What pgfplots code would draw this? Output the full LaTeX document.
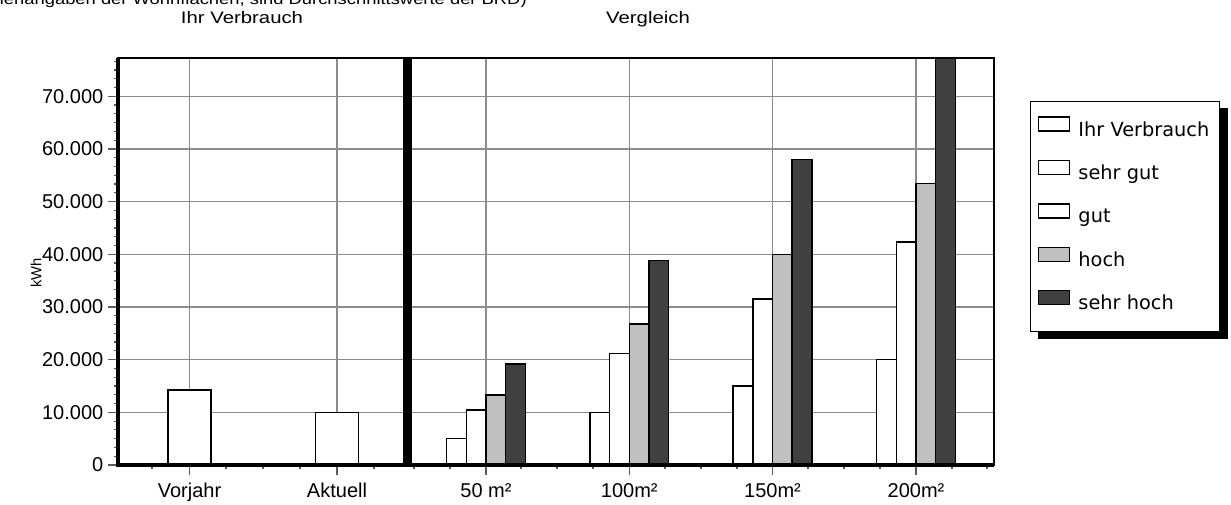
\documentclass[border=0pt]{standalone}
\usepackage{fontspec}
\usepackage{graphicx}
\setmainfont{Liberation Sans}
\newfontfamily\legfont{DejaVu Sans}
\usepackage{pgfplots}
\pgfplotsset{compat=1.18}
\pgfdeclarelayer{background}
\pgfsetlayers{background,main}

\definecolor{gridgray}{RGB}{140,140,140}
\definecolor{tickgray}{RGB}{90,90,90}
\definecolor{hochfill}{RGB}{192,192,192}
\definecolor{shfill}{RGB}{64,64,64}

\begin{document}
\begin{tikzpicture}
% 1 px of the reference = 0.75pt
\useasboundingbox (0,0) rectangle (923.25pt,378pt);

\node[anchor=base east,inner sep=0pt,font=\fontsize{11.3}{13}\selectfont]
  at (395.25pt,374.25pt) {\scalebox{1.22}[1]{(Flächenangaben der Wohnflächen, sind Durchschnittswerte der BRD)}};
\node[anchor=base,inner sep=0pt,font=\fontsize{12.5}{15}\selectfont]
  at (181.5pt,360pt) {\scalebox{1.22}[1]{Ihr Verbrauch}};
\node[anchor=base,inner sep=0pt,font=\fontsize{12.5}{15}\selectfont]
  at (486pt,360pt) {\scalebox{1.22}[1]{Vergleich}};

\begin{axis}[
    at={(88.5pt,29.25pt)}, anchor=south west,
    scale only axis,
    width=657pt, height=305pt,
    xmin=118, xmax=994,
    ymin=0, ymax=77200,
    clip=false,
    xtick={189.5,337,486,629.3,772.5,916},
    xticklabels={Vorjahr,Aktuell,50 m²,100m²,150m²,200m²},
    minor xtick={152,226,263,300,374,414,450,521,557,593,665,701,737,808,844,880,952,987},
    ytick={0,10000,...,70000},
    minor ytick={0,1666.667,...,77000},
    tick pos=left,
    tick align=outside,
    major tick length=7.5pt,
    minor tick length=3pt,
    tick style={tickgray,line width=0.9pt},
    xmajorgrids, ymajorgrids,
    grid style={gridgray,line width=1pt},
    axis line style={line width=1.3pt},
    scaled y ticks=false,
    yticklabel style={/pgf/number format/.cd,fixed,1000 sep={.}},
    xticklabel style={yshift=-2.5pt},
    /pgf/number format/assume math mode=true,
    tick label style={font=\fontsize{15}{18}\selectfont},
    ylabel={kWh},
    ylabel style={font=\fontsize{11}{13}\selectfont,
        at={(axis description cs:-0.0936,0.472)},anchor=center},
    legend image code/.code={\draw[#1] (0pt,0pt) rectangle (23pt,10.5pt);},
    legend style={
        name=leg,
        at={(1.0411,0.895)}, anchor=north west,
        draw=black, line width=1pt, fill=white,
        font=\legfont\fontsize{14.5}{17}\selectfont,
        inner xsep=5.5pt, inner ysep=11pt,
        column sep=4.25pt, row sep=12.25pt,
        nodes={inner xsep=2pt,inner ysep=2pt,text height=11pt,text depth=3.5pt},
    },
    legend cell align=left,
]

% Ihr Verbrauch
\addplot[ybar,bar width=43,bar shift=0pt,draw=black,fill=white,line width=1.1pt]
  coordinates {(189.5,14200) (337,10000)};
\addlegendentry{Ihr Verbrauch}

% sehr gut
\addplot[ybar,bar width=19.7,bar shift=0pt,draw=black,fill=white,line width=1.1pt]
  coordinates {(456.5,5000) (599.8,10000) (743,15000) (886.5,20000)};
\addlegendentry{sehr gut}

% gut
\addplot[ybar,bar width=19.7,bar shift=0pt,draw=black,fill=white,line width=1.1pt]
  coordinates {(476.2,10400) (619.5,21200) (762.7,31500) (906.2,42300)};
\addlegendentry{gut}

% hoch
\addplot[ybar,bar width=19.7,bar shift=0pt,draw=black,fill=hochfill,line width=1.1pt]
  coordinates {(495.8,13300) (639.1,26800) (782.3,40000) (925.8,53400)};
\addlegendentry{hoch}

% sehr hoch
\addplot[ybar,bar width=19.7,bar shift=0pt,draw=black,fill=shfill,line width=1.1pt]
  coordinates {(515.5,19200) (658.8,38800) (802,58000) (945.5,77200)};
\addlegendentry{sehr hoch}

% separator between the two parts and the heavy left/bottom axis lines
\draw[line width=6.75pt] (axis cs:407.5,0) -- (axis cs:407.5,77200);
\draw[line width=2.4pt] (rel axis cs:0,1) -- (rel axis cs:0,0) -- (rel axis cs:1,0);
\end{axis}

% legend shadow
\begin{pgfonlayer}{background}
\fill[black] ([xshift=6pt,yshift=-5pt]leg.south west) rectangle ([xshift=6pt,yshift=-5pt]leg.north east);
\end{pgfonlayer}
\end{tikzpicture}
\end{document}
